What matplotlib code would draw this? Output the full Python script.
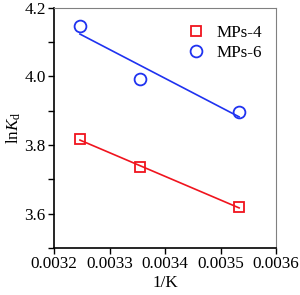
import matplotlib

matplotlib.use("Agg")
import matplotlib.pyplot as plt
from matplotlib.ticker import MultipleLocator
import numpy as np

plt.rcParams["font.family"] = ["Liberation Serif", "DejaVu Serif"]
plt.rcParams["mathtext.fontset"] = "custom"
plt.rcParams["mathtext.rm"] = "Liberation Serif"
plt.rcParams["mathtext.it"] = "Liberation Serif:italic"

inv_t = [1 / 308.0, 1 / 298.0, 1 / 283.0]
lnkd_mps4 = [3.817, 3.735, 3.618]
lnkd_mps6 = [4.148, 3.993, 3.897]

RED = "#f0141e"
BLUE = "#1f32f0"
FS = 12.3

fig = plt.figure(figsize=(3.0, 2.95), dpi=100)
ax = fig.add_axes([0.18, 0.16, 0.74, 0.813])

for ys, color, marker, ms, label in (
    (lnkd_mps4, RED, "s", 7.0, "MPs-4"),
    (lnkd_mps6, BLUE, "o", 8.5, "MPs-6"),
):
    slope, intercept = np.polyfit(inv_t, ys, 1)
    xs = np.array([min(inv_t), max(inv_t)])
    ax.plot(xs, slope * xs + intercept, color=color, lw=1.2)
    ax.plot(inv_t, ys, ls="none", marker=marker, ms=ms, mfc="none", mec=color, mew=1.3, label=label)

ax.set_xlim(0.0032, 0.0036)
ax.set_ylim(3.5, 4.2)
ax.yaxis.set_minor_locator(MultipleLocator(0.1))
ax.set_xticks([0.0032, 0.0033, 0.0034, 0.0035, 0.0036])
ax.set_xticklabels(["0.0032", "0.0033", "0.0034", "0.0035", "0.0036"])
ax.set_yticks([3.6, 3.8, 4.0, 4.2])
ax.set_yticklabels(["3.6", "3.8", "4.0", "4.2"])
ax.tick_params(axis="both", which="major", direction="out", length=4, width=1, labelsize=FS, pad=2)
ax.tick_params(axis="y", which="minor", direction="out", length=4, width=1)
ax.tick_params(top=False, right=False)

ax.spines["left"].set_linewidth(1.2)
ax.spines["bottom"].set_linewidth(1.2)
ax.spines["top"].set_color("#808080")
ax.spines["right"].set_color("#808080")

ax.set_xlabel("1/K", fontsize=FS, labelpad=2)
ax.set_ylabel(r"$\mathrm{ln}\mathit{K}_{\mathrm{d}}$", fontsize=FS, labelpad=1)

ax.legend(loc="upper right", bbox_to_anchor=(1.0, 0.985), frameon=False, fontsize=FS,
          handletextpad=0.6, borderaxespad=0.4, labelspacing=0.2, handlelength=1.2)

fig.savefig("out.png", dpi=100)
